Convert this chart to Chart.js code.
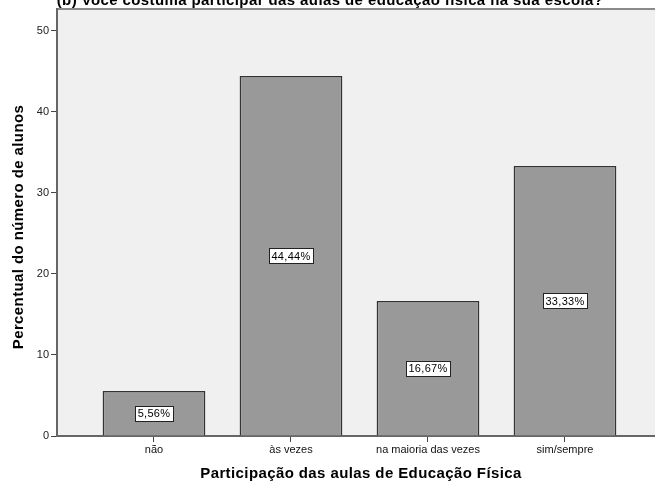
<!DOCTYPE html>
<html lang="pt-br">
  <head>
    <meta charset="UTF-8" />
    <title>Participação nas aulas de Educação Física</title>
    <script src="https://cdn.jsdelivr.net/npm/chart.js"></script>
    <style>
      html, body { margin: 0; padding: 0; background: #fff; }
      #wrap { width: 655px; height: 481px; }
    </style>
  </head>
  <body>
    <div id="wrap"><canvas id="grafico" width="655" height="481"></canvas></div>

    <script>
      const categorias = ['não', 'às vezes', 'na maioria das vezes', 'sim/sempre'];
      const percentuais = [5.56, 44.44, 16.67, 33.33];
      const rotulos = ['5,56%', '44,44%', '16,67%', '33,33%'];
      const ticksY = [0, 10, 20, 30, 40, 50];

      const titulo = '(b) Você costuma participar das aulas de educação física na sua escola?';
      const tituloX = 'Participação das aulas de Educação Física';
      const tituloY = 'Percentual do número de alunos';

      const fonte = '"Liberation Sans", Arial, sans-serif';

      // fundo cinza da área do gráfico + linha superior
      const fundoPlot = {
        id: 'fundoPlot',
        beforeDraw(chart) {
          const { ctx, chartArea: a } = chart;
          ctx.save();
          ctx.fillStyle = '#f0f0f0';
          ctx.fillRect(a.left, a.top, a.right - a.left, a.bottom - a.top);
          ctx.strokeStyle = '#8a8a8a';
          ctx.lineWidth = 2;
          ctx.beginPath();
          ctx.moveTo(a.left, a.top);
          ctx.lineTo(a.right, a.top);
          ctx.stroke();
          ctx.restore();
        }
      };

      // caixinhas com o percentual no meio de cada barra
      const rotulosBarras = {
        id: 'rotulosBarras',
        afterDatasetsDraw(chart) {
          const { ctx } = chart;
          const meta = chart.getDatasetMeta(0);
          ctx.save();
          ctx.font = '11px ' + fonte;
          ctx.letterSpacing = '0.3px';
          ctx.textAlign = 'center';
          ctx.textBaseline = 'middle';
          meta.data.forEach((bar, i) => {
            const y = (bar.y + bar.base) / 2;
            const txt = rotulos[i];
            const w = Math.round(ctx.measureText(txt).width + 5);
            const h = 15;
            const x0 = Math.round(bar.x - w / 2) + 0.5;
            const y0 = Math.round(y - h / 2) + 0.5;
            ctx.fillStyle = '#fff';
            ctx.fillRect(x0, y0, w, h);
            ctx.strokeStyle = '#222';
            ctx.lineWidth = 1;
            ctx.strokeRect(x0, y0, w, h);
            ctx.fillStyle = '#000';
            ctx.fillText(txt, bar.x, y + 1);
          });
          ctx.restore();
        }
      };

      // títulos (o de cima fica cortado na borda)
      const titulos = {
        id: 'titulos',
        afterDraw(chart) {
          const { ctx } = chart;
          ctx.save();
          ctx.fillStyle = '#000';
          ctx.font = 'bold 15px ' + fonte;
          ctx.letterSpacing = '0.4px';
          ctx.textAlign = 'center';
          ctx.textBaseline = 'alphabetic';
          ctx.fillText(titulo, 330, 5);

          ctx.fillText(tituloX, 361, 478);

          ctx.translate(23, 227);
          ctx.rotate(-Math.PI / 2);
          ctx.fillText(tituloY, 0, 0);
          ctx.restore();
        }
      };

      new Chart(document.getElementById('grafico').getContext('2d'), {
        type: 'bar',
        data: {
          datasets: [{
            data: percentuais.map((v, i) => ({ x: i + 1, y: v })),
            backgroundColor: '#999999',
            borderColor: '#333333',
            borderWidth: 1.5,
            barPercentage: 0.75,
            categoryPercentage: 1
          }]
        },
        options: {
          responsive: false,
          animation: false,
          layout: { padding: { top: 9, right: 0, left: 0, bottom: 0 } },
          plugins: {
            legend: { display: false },
            tooltip: { enabled: false }
          },
          scales: {
            x: {
              type: 'linear',
              min: 0.292,
              max: 4.657,
              offset: false,
              afterBuildTicks(scale) {
                scale.ticks = categorias.map((c, i) => ({ value: i + 1 }));
              },
              afterFit(scale) { scale.height = 45; },
              ticks: {
                color: '#111',
                font: { family: fonte, size: 11 },
                padding: 1,
                maxRotation: 0,
                autoSkip: false,
                callback: (v) => categorias[v - 1] || ''
              },
              grid: { offset: false, drawOnChartArea: false, tickLength: 6, color: '#444', lineWidth: 1 },
              border: { color: '#666', width: 2 }
            },
            y: {
              min: 0,
              max: 52.7,
              afterBuildTicks(scale) {
                scale.ticks = ticksY.map(v => ({ value: v }));
              },
              afterFit(scale) { scale.width = 57; },
              ticks: {
                color: '#222',
                font: { family: fonte, size: 11 },
                padding: 2
              },
              grid: { drawOnChartArea: false, tickLength: 6, color: '#444', lineWidth: 1 },
              border: { color: '#666', width: 2 }
            }
          }
        },
        plugins: [fundoPlot, rotulosBarras, titulos]
      });
    </script>
  </body>
</html>
